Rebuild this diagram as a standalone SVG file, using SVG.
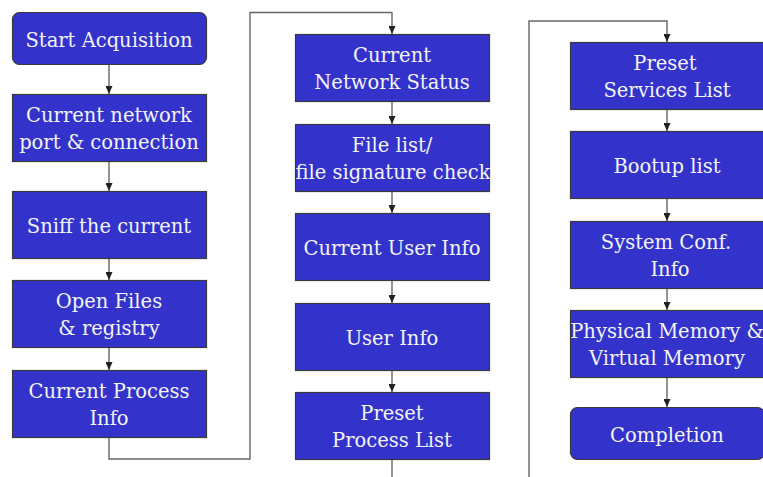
<svg xmlns="http://www.w3.org/2000/svg" width="763" height="477" viewBox="0 0 763 477">
<style>
.box{fill:#3333cc;stroke:#3a3a3a;stroke-width:1.2}
.t{font-family:'DejaVu Serif','Liberation Serif',serif;font-size:19.5px;fill:#f4f4f4;text-anchor:middle}
.c{fill:none;stroke:#666;stroke-width:1.4}
</style>
<defs>
<marker id="ah" viewBox="0 0 8 7" refX="8" refY="3.5" markerWidth="8" markerHeight="7" markerUnits="userSpaceOnUse" orient="auto">
<path d="M0,0 L8,3.5 L0,7 Z" fill="#222"/>
</marker>
</defs>
<rect width="763" height="477" fill="#fff"/>
<g id="connectors">
<path class="c" d="M109,64 V94" marker-end="url(#ah)"/>
<path class="c" d="M109,162 V191" marker-end="url(#ah)"/>
<path class="c" d="M109,258 V280" marker-end="url(#ah)"/>
<path class="c" d="M109,347 V370" marker-end="url(#ah)"/>
<path class="c" d="M109,437 V459 H250 V12.5 H392 V34" marker-end="url(#ah)"/>
<path class="c" d="M392,101 V124" marker-end="url(#ah)"/>
<path class="c" d="M392,191 V213" marker-end="url(#ah)"/>
<path class="c" d="M392,280 V303" marker-end="url(#ah)"/>
<path class="c" d="M392,370 V392" marker-end="url(#ah)"/>
<path class="c" d="M392,459 V495 H529 V21 H667 V42" marker-end="url(#ah)"/>
<path class="c" d="M667,109 V131" marker-end="url(#ah)"/>
<path class="c" d="M667,199 V221" marker-end="url(#ah)"/>
<path class="c" d="M667,288 V310" marker-end="url(#ah)"/>
<path class="c" d="M667,377 V407" marker-end="url(#ah)"/>
</g>
<g id="n1"><rect class="box" x="12.5" y="12.5" width="194" height="52" rx="7"/><text class="t" x="109" y="47">Start Acquisition</text></g>
<g id="n2"><rect class="box" x="12.5" y="94.5" width="194" height="67"/><text class="t" x="109" y="122">Current network</text><text class="t" x="109" y="149">port &amp; connection</text></g>
<g id="n3"><rect class="box" x="12.5" y="191.5" width="194" height="67"/><text class="t" x="109" y="233">Sniff the current</text></g>
<g id="n4"><rect class="box" x="12.5" y="280.5" width="194" height="67"/><text class="t" x="109" y="308">Open Files</text><text class="t" x="109" y="335">&amp; registry</text></g>
<g id="n5"><rect class="box" x="12.5" y="370.5" width="194" height="67"/><text class="t" x="109" y="398">Current Process</text><text class="t" x="109" y="425">Info</text></g>
<g id="n6"><rect class="box" x="295.5" y="34.5" width="194" height="67"/><text class="t" x="392" y="62">Current</text><text class="t" x="392" y="89">Network Status</text></g>
<g id="n7"><rect class="box" x="295.5" y="124.5" width="194" height="67"/><text class="t" x="392" y="152">File list/</text><text class="t" x="393" y="179">file signature check</text></g>
<g id="n8"><rect class="box" x="295.5" y="213.5" width="194" height="67"/><text class="t" x="392" y="255">Current User Info</text></g>
<g id="n9"><rect class="box" x="295.5" y="303.5" width="194" height="67"/><text class="t" x="392" y="345">User Info</text></g>
<g id="n10"><rect class="box" x="295.5" y="392.5" width="194" height="67"/><text class="t" x="392" y="420">Preset</text><text class="t" x="392" y="447">Process List</text></g>
<g id="n11"><rect class="box" x="570.5" y="42.5" width="194" height="67"/><text class="t" x="665" y="70">Preset</text><text class="t" x="667" y="97">Services List</text></g>
<g id="n12"><rect class="box" x="570.5" y="131.5" width="194" height="67"/><text class="t" x="667" y="173">Bootup list</text></g>
<g id="n13"><rect class="box" x="570.5" y="221.5" width="194" height="67"/><text class="t" x="666" y="249">System Conf.</text><text class="t" x="670" y="276">Info</text></g>
<g id="n14"><rect class="box" x="570.5" y="310.5" width="194" height="67"/><text class="t" x="667" y="338">Physical Memory &amp;</text><text class="t" x="667" y="365">Virtual Memory</text></g>
<g id="n15"><rect class="box" x="570.5" y="407.5" width="194" height="52" rx="7"/><text class="t" x="667" y="442">Completion</text></g>
</svg>
